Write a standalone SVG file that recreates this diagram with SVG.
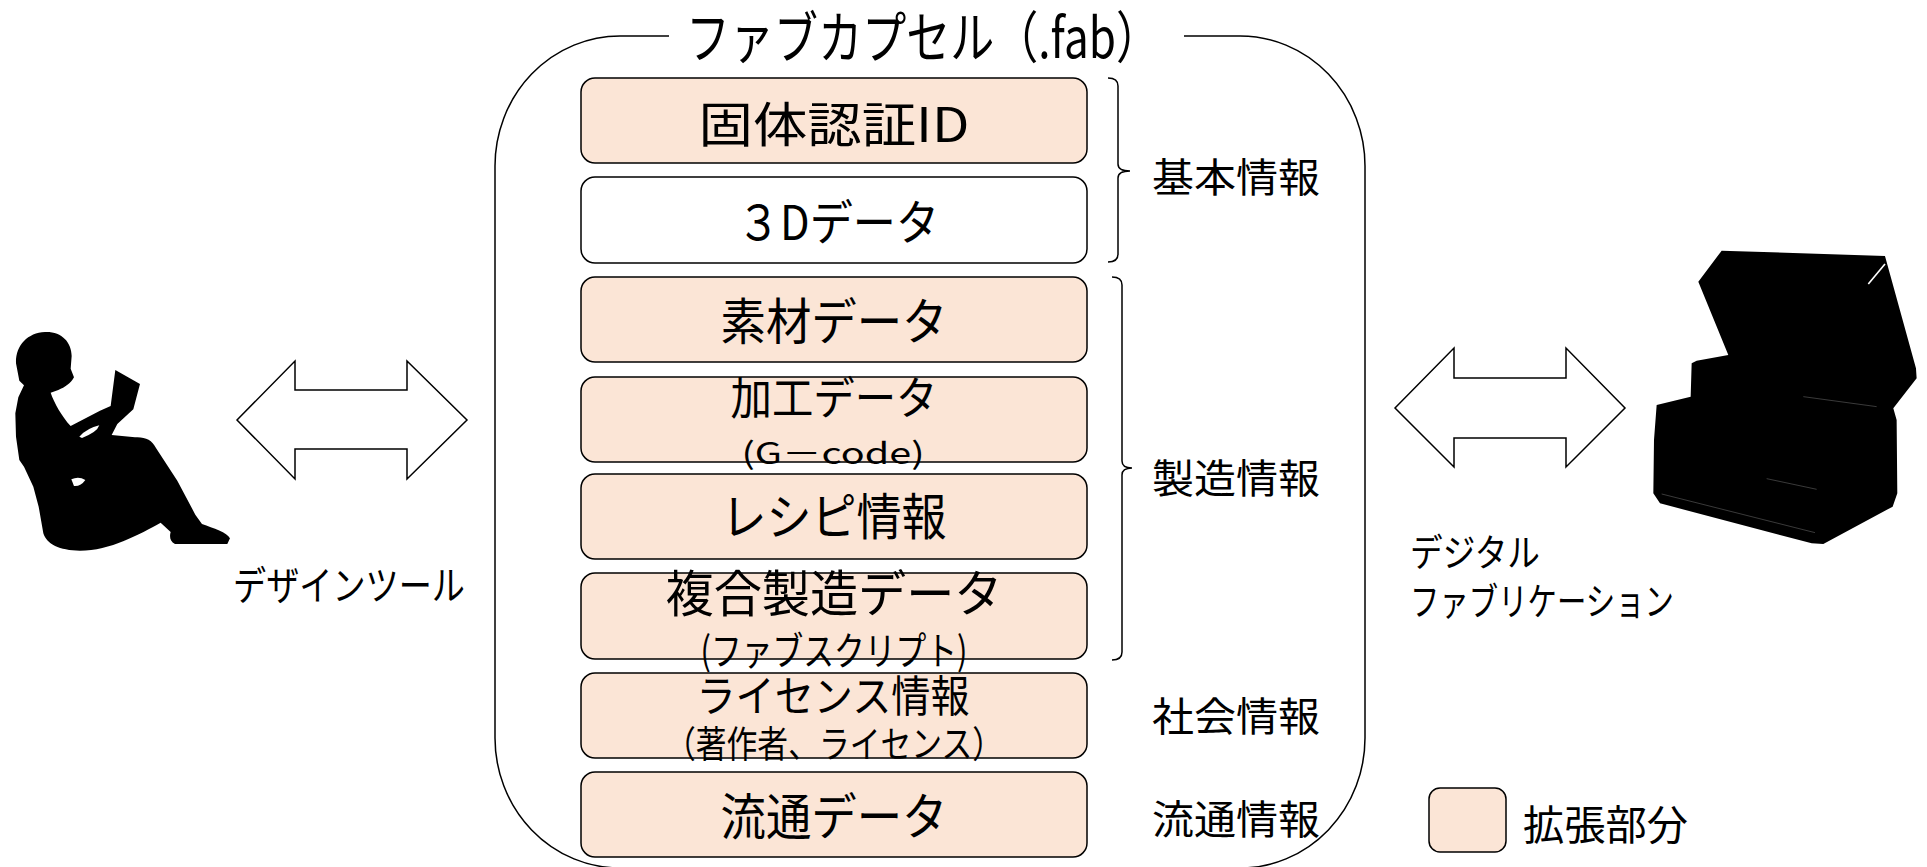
<svg xmlns="http://www.w3.org/2000/svg" width="1927" height="867" viewBox="0 0 1927 867">
  <style>
    .t { font-family: "Noto Sans CJK JP", "Noto Sans", sans-serif; fill: #000; }
    .box { stroke: #000; stroke-width: 1.5; }
    .ext { fill: #FBE5D6; }
    .base { fill: #FFFFFF; }
    .line { fill: none; stroke: #000; stroke-width: 1.5; }
    .arrow { fill: #FFFFFF; stroke: #000; stroke-width: 1.5; stroke-linejoin: miter; }
    .sil { fill: #000; }
  </style>

  <rect width="1927" height="867" fill="#FFFFFF"/>

  <!-- capsule outline with a gap in the top edge for its title -->
  <g id="capsule">
    <path class="line" d="M 669,36 L 620,36 A 125,130 0 0 0 495,166 L 495,738 A 125,130 0 0 0 620,868 L 1240,868 A 125,130 0 0 0 1365,738 L 1365,166 A 125,130 0 0 0 1240,36 L 1184,36"/>
    <text class="t" x="686" y="58" font-size="56" textLength="474" lengthAdjust="spacingAndGlyphs">ファブカプセル（.fab）</text>
  </g>

  <!-- data blocks inside the capsule -->
  <g id="node-id">
    <rect class="box ext" x="581" y="78" width="506" height="85" rx="14"/>
    <text class="t" x="834" y="142" font-size="48" text-anchor="middle" textLength="271" lengthAdjust="spacingAndGlyphs">固体認証ID</text>
  </g>
  <g id="node-3d">
    <rect class="box base" x="581" y="177" width="506" height="86" rx="14"/>
    <text class="t" x="838" y="240" font-size="48" text-anchor="middle" textLength="202" lengthAdjust="spacingAndGlyphs">３Dデータ</text>
  </g>
  <g id="node-material">
    <rect class="box ext" x="581" y="277" width="506" height="85" rx="14"/>
    <text class="t" x="834" y="340" font-size="50" text-anchor="middle" textLength="227" lengthAdjust="spacingAndGlyphs">素材データ</text>
  </g>
  <g id="node-process">
    <rect class="box ext" x="581" y="377" width="506" height="85" rx="14"/>
    <text class="t" x="834" y="415" font-size="45" text-anchor="middle" textLength="207" lengthAdjust="spacingAndGlyphs">加工データ</text>
    <text class="t" x="833" y="464" font-size="30" text-anchor="middle" textLength="183" lengthAdjust="spacingAndGlyphs">(G－code)</text>
  </g>
  <g id="node-recipe">
    <rect class="box ext" x="581" y="474" width="506" height="85" rx="14"/>
    <text class="t" x="834" y="535" font-size="50" text-anchor="middle" textLength="225" lengthAdjust="spacingAndGlyphs">レシピ情報</text>
  </g>
  <g id="node-composite">
    <rect class="box ext" x="581" y="573" width="506" height="86" rx="14"/>
    <text class="t" x="834" y="612" font-size="50" text-anchor="middle" textLength="337" lengthAdjust="spacingAndGlyphs">複合製造データ</text>
    <text class="t" x="834" y="665" font-size="39" text-anchor="middle" textLength="267" lengthAdjust="spacingAndGlyphs">(ファブスクリプト)</text>
  </g>
  <g id="node-license">
    <rect class="box ext" x="581" y="673" width="506" height="85" rx="14"/>
    <text class="t" x="833" y="712" font-size="43" text-anchor="middle" textLength="273" lengthAdjust="spacingAndGlyphs">ライセンス情報</text>
    <text class="t" x="834" y="758" font-size="37" text-anchor="middle" textLength="338" lengthAdjust="spacingAndGlyphs">（著作者、ライセンス）</text>
  </g>
  <g id="node-distribution">
    <rect class="box ext" x="581" y="772" width="506" height="85" rx="14"/>
    <text class="t" x="834" y="835" font-size="50" text-anchor="middle" textLength="227" lengthAdjust="spacingAndGlyphs">流通データ</text>
  </g>

  <!-- category braces and labels -->
  <g id="category-basic">
    <path class="line" d="M 1108,78 Q 1118,78 1118,86 L 1118,164 Q 1118,171 1130,171 Q 1118,171 1118,178 L 1118,254 Q 1118,262 1108,262"/>
    <text class="t" x="1236" y="192" font-size="40" text-anchor="middle" textLength="168" lengthAdjust="spacingAndGlyphs">基本情報</text>
  </g>
  <g id="category-manufacturing">
    <path class="line" d="M 1112,277 Q 1122,277 1122,285 L 1122,461 Q 1122,468 1132,468 Q 1122,468 1122,475 L 1122,652 Q 1122,660 1112,660"/>
    <text class="t" x="1236" y="493" font-size="40" text-anchor="middle" textLength="168" lengthAdjust="spacingAndGlyphs">製造情報</text>
  </g>
  <g id="category-social">
    <text class="t" x="1236" y="731" font-size="40" text-anchor="middle" textLength="168" lengthAdjust="spacingAndGlyphs">社会情報</text>
  </g>
  <g id="category-distribution">
    <text class="t" x="1236" y="834" font-size="40" text-anchor="middle" textLength="168" lengthAdjust="spacingAndGlyphs">流通情報</text>
  </g>

  <!-- two-way block arrows -->
  <g id="connectors">
    <polygon class="arrow" points="237,420 295,361 295,390 407,390 407,361 467,420 407,479 407,449 295,449 295,479"/>
    <polygon class="arrow" points="1395,408 1454,348 1454,378 1566,378 1566,348 1625,408 1566,467 1566,438 1454,438 1454,467"/>
  </g>

  <!-- designer: seated reader silhouette -->
  <g id="designer">
    <g transform="translate(0,320) scale(0.3333)">
      <path class="sil" d="M 135,36 C 185,34 214,66 215,108 L 212,146 L 222,172 C 212,190 195,202 175,210 L 152,218 C 162,248 186,290 212,318 L 300,272 L 332,258 L 346,150 L 420,192 L 400,268 L 352,312 L 335,345 L 405,352 C 435,350 456,360 468,384 L 532,482 L 586,584 L 606,612 C 640,624 682,638 690,655 L 682,672 L 525,672 C 510,665 508,650 512,636 L 482,608 C 420,642 330,692 240,692 C 178,692 140,672 130,640 L 116,560 L 100,500 L 72,440 L 58,420 L 48,350 L 46,280 L 55,232 L 72,196 L 58,182 L 48,130 C 46,78 82,38 135,36 Z"/>
      <path fill="#FFFFFF" d="M 238,350 Q 262,324 298,316 Q 292,336 246,354 Z"/>
      <path fill="#FFFFFF" d="M 214,478 Q 236,468 256,480 Q 242,500 222,498 Z"/>
    </g>
    <text class="t" x="349" y="600" font-size="40" text-anchor="middle" textLength="232" lengthAdjust="spacingAndGlyphs">デザインツール</text>
  </g>

  <!-- fabrication: open-lid printer silhouette -->
  <g id="fabrication">
    <g transform="translate(1630,240) scale(0.3333)">
      <path class="sil" d="M 275,32 L 765,48 L 858,385 L 860,415 L 790,505 L 800,540 L 802,760 L 788,800 L 580,912 L 545,910 L 90,790 L 70,760 L 72,600 L 80,495 L 182,470 L 185,370 L 200,362 L 295,345 L 205,125 Z"/>
      <path d="M 715,132 L 765,72" stroke="#FFFFFF" stroke-width="5" fill="none"/>
      <path d="M 95,762 L 555,878 M 410,716 L 560,748 M 520,470 L 740,500" stroke="#3A3A3A" stroke-width="3" fill="none"/>
    </g>
    <text class="t" x="1410" y="566" font-size="38" textLength="130" lengthAdjust="spacingAndGlyphs">デジタル</text>
    <text class="t" x="1410" y="615" font-size="38" textLength="264" lengthAdjust="spacingAndGlyphs">ファブリケーション</text>
  </g>

  <!-- legend -->
  <g id="legend">
    <rect class="box ext" x="1429" y="788" width="77" height="64" rx="11"/>
    <text class="t" x="1523" y="840" font-size="41" textLength="165" lengthAdjust="spacingAndGlyphs">拡張部分</text>
  </g>
</svg>
